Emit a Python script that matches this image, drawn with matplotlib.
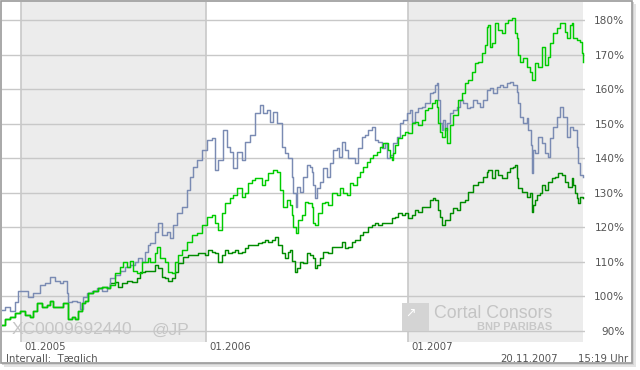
import matplotlib
matplotlib.use("Agg")
import matplotlib.pyplot as plt
from matplotlib.patches import Rectangle
from matplotlib.transforms import ScaledTranslation

# ---- data (x = trading-session index, y = performance in %) ----
blue_x = [0,3,8,13,16,21,26,31,38,43, 48,53,58,61,65,66,70,75,78,81,
          85,90,95,100,105,108,113,118,123,128, 133,136,140,143,146,148,153,156,160,165,
          168,171,175,180,185,188,191,195,200,205, 210,213,216,221,225,228,231,235,240,243,
          248,253,258,261,265,268,271,275,280,283, 286,288,290,291,294,295,298,301,305,308,
          310,311,313,315,318,321,325,328,331,335, 337,340,343,346,350,353,356,360,363,366,
          370,373,376,380,383,385,388,391,395,398, 401,405,408,410,413,416,420,423,426,428,
          431,433,435,436,438,440,441,443,445,448, 451,455,458,461,465,468,471,475,478,481,
          485,488,491,495,498,501,505,508,511,515, 516,518,521,525,526,529,530,531,533,536,
          540,543,546,548,551,555,558,561,565,568, 571,575,576,578,581]
blue_y = [96.2,96.8,95.9,98.3,101.7,101.7,99.7,100.9,103.2,103.8,
          105.5,104.6,103.8,104.6,100.9,98.3,98.8,98.3,96.5,99.7,
          100.9,101.7,102.3,101.7,102.6,105.2,106.1,107.5,108.4,109.0,
          109.9,111.0,109.9,113.0,114.8,115.4,118.6,121.4,117.7,118.6,
          116.8,120.6,124.1,125.8,130.7,134.5,137.4,139.4,142.3,145.2,
          145.8,136.5,139.4,148.1,143.2,141.7,137.1,141.7,139.4,144.6,
          146.7,153.0,155.4,153.0,153.9,150.4,153.3,150.1,143.2,141.4,
          140.0,140.0,134.5,129.9,125.8,131.6,130.1,134.5,138.0,137.4,
          135.9,132.2,128.4,131.3,133.0,137.1,134.5,138.6,142.3,142.9,
          140.3,144.6,142.3,140.0,140.0,138.6,142.9,146.1,146.7,148.1,
          149.0,145.2,144.6,142.9,144.3,140.0,140.9,144.3,146.1,150.1,
          151.0,153.0,153.9,150.4,153.3,154.5,154.8,155.9,155.9,158.8,
          159.1,161.2,161.7,156.8,150.1,148.1,151.0,148.1,150.1,153.0,
          153.9,154.8,156.8,155.9,154.5,154.8,156.8,155.9,154.8,156.8,
          159.7,160.3,158.8,160.6,161.2,160.6,161.7,162.0,161.2,159.1,
          155.9,151.9,150.1,151.6,148.1,143.8,135.7,142.3,141.4,146.1,
          144.3,141.4,140.3,145.8,149.0,151.9,154.8,151.9,146.1,149.0,
          148.1,143.2,138.6,135.1,134.5]

lgreen_x = [0,3,8,13,18,21,23,28,31,35, 40,45,48,51,56,61,65,66,70,73,
            76,80,83,86,91,96,100,105,108,113, 118,121,125,128,131,135,140,143,146,148,
            153,155,158,163,166,170,173,176,180,185, 190,195,200,205,210,213,216,220,223,228,
            231,235,240,243,246,250,253,256,260,263, 266,271,275,278,281,285,288,290,291,294,
            296,300,303,306,310,311,313,316,320,323, 326,330,335,338,341,345,348,351,355,358,
            361,365,368,371,375,378,381,385,386,388, 390,391,393,396,400,403,406,410,413,416,
            420,423,426,430,433,435,436,438,440,443, 445,448,451,455,456,460,463,466,470,473,
            476,480,483,485,486,488,490,493,496,500, 503,506,510,513,515,516,518,521,525,528,
            530,533,536,540,543,546,548,551,555,558, 560,563,565,568,570,571,575,578,580,581]
lgreen_y = [91.6,93.6,93.9,95.1,95.9,95.9,94.5,93.9,95.9,98.0,
            96.8,97.4,98.8,96.8,96.8,98.0,98.0,93.6,93.9,93.6,
            95.9,98.0,98.8,100.9,101.7,102.3,102.6,102.3,103.2,106.7,
            108.4,109.9,108.4,110.4,107.5,106.7,109.9,109.9,111.0,109.9,
            112.5,114.2,111.0,109.9,107.0,106.7,109.9,111.9,113.3,115.7,
            117.7,118.3,120.6,122.9,123.5,121.2,119.1,124.1,127.0,128.4,
            129.3,131.3,128.7,129.9,132.8,133.6,134.2,134.2,132.2,133.6,
            135.7,136.5,135.9,130.7,125.8,127.8,126.4,123.5,120.0,118.3,
            122.0,123.5,127.2,127.0,125.8,121.2,120.6,124.1,127.0,127.2,
            126.4,129.9,129.3,131.3,129.9,129.3,132.8,132.2,134.5,135.9,
            137.4,138.8,140.0,140.9,141.7,143.2,144.3,144.3,142.3,140.3,
            139.4,141.4,143.8,145.8,146.7,147.5,147.2,150.1,150.4,149.6,
            151.0,153.9,154.5,155.9,156.8,154.8,150.1,147.5,146.1,148.7,
            144.3,149.6,152.5,152.5,156.8,158.8,161.7,162.6,164.9,167.5,
            167.8,170.4,172.8,178.0,178.6,172.2,173.3,179.1,177.1,176.2,
            179.1,180.0,180.6,176.2,174.8,169.9,167.8,169.0,166.4,164.9,
            162.6,167.5,166.4,172.2,167.0,169.3,173.3,176.2,177.7,179.1,
            179.1,176.5,174.8,178.6,179.1,174.8,174.2,173.6,170.4,167.8]

dgreen_x = [0,3,8,13,18,21,23,28,31,35, 40,45,48,51,56,61,65,66,70,73,
            76,80,83,86,91,96,100,105,
            108,113,116,120,125,130,135,138,143,150, 153,156,160,163,166,170,173,176,181,186,
            191,196,203,206,210,213,216,220,223,226, 230,233,236,240,243,246,251,256,260,263,
            266,270,273,276,280,283,286,288,290,293, 295,298,301,305,308,311,313,315,318,321,
            326,330,335,340,343,346,350,353,358,361, 366,370,373,376,380,386,390,393,396,400,
            403,406,410,413,416,420,423,428,431,433, 436,438,440,443,446,448,451,455,458,463,
            466,471,476,481,485,486,490,493,496,500, 505,508,511,513,515,516,520,523,525,528,
            530,531,533,535,538,540,543,546,550,553, 556,560,563,566,570,571,573,575,576,578,
            581]
dgreen_y = [91.6,93.6,93.9,95.1,95.9,95.9,94.5,93.9,95.9,98.0,
            96.8,97.4,98.8,96.8,96.8,98.0,98.0,93.6,93.9,93.6,
            95.9,98.0,98.8,100.9,101.7,102.3,102.6,102.3,
            103.8,104.1,102.6,103.8,104.6,104.1,105.2,107.0,107.5,107.5,
            109.0,108.1,105.5,105.2,104.6,105.2,107.0,109.6,111.3,111.9,
            111.9,112.5,111.9,113.3,112.8,112.5,109.9,111.9,113.3,112.5,
            112.8,113.3,112.5,112.8,113.9,114.8,114.8,115.4,115.7,116.2,
            115.7,116.2,117.1,114.8,112.5,111.0,112.8,113.3,110.4,107.0,
            108.1,109.9,109.6,112.5,111.9,111.0,108.1,109.0,111.0,112.8,
            112.5,114.2,114.2,115.7,113.9,114.2,115.7,116.2,117.7,118.6,
            120.0,120.6,121.2,120.6,121.2,121.4,122.6,122.9,124.1,123.5,
            124.1,122.6,123.5,124.9,124.3,125.8,125.8,127.8,128.4,127.8,
            124.9,122.9,120.6,122.0,122.0,124.1,125.5,124.9,127.2,127.8,
            130.1,132.2,133.0,134.5,135.9,136.5,134.2,136.5,135.1,134.2,
            135.9,137.1,137.4,138.0,134.2,131.3,130.1,130.1,128.7,129.9,
            124.3,126.4,127.8,129.3,129.9,132.2,130.7,133.0,134.2,134.5,
            135.7,135.1,133.0,131.6,134.2,132.2,129.9,128.4,127.0,128.7,
            128.4]

year_pos = [19, 204, 406]
year_labels = ["01.2005", "01.2006", "01.2007"]
shaded_spans = [(19, 204), (406, 581)]
y_ticks = [90, 100, 110, 120, 130, 140, 150, 160, 170, 180]
y_labels = [f"{v}%" for v in y_ticks]

W, H = 640, 370
fig = plt.figure(figsize=(W / 100, H / 100), dpi=100)
fig.patch.set_facecolor("white")

def px_rect(x0, y0, x1, y1, **kw):
    return Rectangle((x0 / W, 1 - y1 / H), (x1 - x0) / W, (y1 - y0) / H,
                     transform=fig.transFigure, **kw)

# shadow + frame background
fig.patches.append(px_rect(4, 4, 636, 367, facecolor="#e4e4e4", edgecolor="none", zorder=-3))
fig.patches.append(px_rect(2, 2, 634, 365, facecolor="#d2d2d2", edgecolor="none", zorder=-2))
fig.patches.append(px_rect(0.5, 0.5, 631.5, 363, facecolor="white", edgecolor="none", zorder=-1))

ax = fig.add_axes([2 / W, 1 - 342 / H, 583 / W, 340.5 / H])
ax.set_facecolor("white")
ax.set_xlim(0, 583)
ax.set_ylim(86.8, 185.4)
for s in ax.spines.values():
    s.set_visible(False)

for a, b in shaded_spans:
    ax.axvspan(a, b, color="#ececec", zorder=0, lw=0)
for yv in y_ticks:
    ax.axhline(yv, color="#c8c8c8", lw=1.0, zorder=0.5)
for xv in year_pos:
    ax.axvline(xv, color="#c8c8c8", lw=1.2, zorder=0.5)

ax.plot(dgreen_x, dgreen_y, color="#008c00", lw=1.05, drawstyle="steps-post", zorder=3)
ax.plot(blue_x, blue_y, color="#7a8bb3", lw=1.05, drawstyle="steps-post", zorder=4)
ax.plot(lgreen_x, lgreen_y, color="#00cc00", lw=1.05, drawstyle="steps-post", zorder=5)

# y tick labels on the right, right-aligned
ax.set_yticks(y_ticks)
ax.set_yticklabels(y_labels)
ax.tick_params(axis="y", left=False, right=False, labelleft=False, labelright=True,
               length=0, pad=28.5, labelsize=7.6, labelcolor="#555555")
for lab in ax.get_yticklabels():
    lab.set_horizontalalignment("right")

# x tick labels, left-aligned just right of the year lines
ax.set_xticks(year_pos)
ax.set_xticklabels(year_labels)
ax.tick_params(axis="x", length=0, pad=0.3, labelsize=7.3, labelcolor="#555555")
for lab in ax.get_xticklabels():
    lab.set_horizontalalignment("left")
    lab.set_transform(lab.get_transform() + ScaledTranslation(3 / 100, 0, fig.dpi_scale_trans))

# watermarks
wm = dict(color="#c6c6c6", family="Liberation Sans", fontsize=12.5, va="center", ha="left",
          transform=fig.transFigure, zorder=1)
fig.text(12 / W, 1 - 330 / H, "XC0009692440", **wm)
fig.text(152 / W, 1 - 330 / H, "@JP", **wm)

# logo
fig.patches.append(px_rect(402, 303, 429, 331, facecolor="#d4d4d4", edgecolor="none", zorder=1))
fig.text(405 / W, 1 - 313 / H, "↗", color="white", fontsize=9, va="center", ha="left", zorder=2)
fig.text(434 / W, 1 - 318 / H, "Cortal Consors", color="#c4c4c4", family="Liberation Sans",
         fontsize=12.8, va="baseline", ha="left", zorder=1)
fig.text(552 / W, 1 - 326.5 / H, "BNP PARIBAS", color="#c8c8c8", family="Liberation Sans",
         fontweight="bold", fontsize=8, va="center", ha="right", zorder=1)

# footer texts
ft = dict(color="#555555", fontsize=7.3, va="center")
fig.text(6 / W, 1 - 358.5 / H, "Intervall:  Tæglich", ha="left", **ft)
fig.text(500 / W, 1 - 358.5 / H, "20.11.2007", ha="left", **ft)
fig.text(628 / W, 1 - 358.5 / H, "15:19 Uhr", ha="right", **ft)

# frame border
fig.patches.append(px_rect(0.75, 0.75, 631.5, 363, facecolor="none", edgecolor="#9a9a9a",
                           lw=1.2, zorder=20))

fig.savefig("out.png", dpi=100)
